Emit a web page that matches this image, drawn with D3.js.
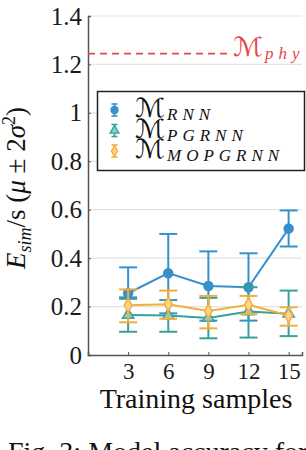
<!DOCTYPE html>
<html>
<head>
<meta charset="utf-8">
<script src="https://cdn.jsdelivr.net/npm/d3@7"></script>
<style>
  html, body { margin: 0; padding: 0; background: #fff; overflow: hidden; }
  svg { display: block; font-family: "Liberation Serif", "DejaVu Serif", serif; }
</style>
</head>
<body>
<div id="chart"></div>
<script>
const samples = [3, 6, 9, 12, 15];
const xTicks = [3, 6, 9, 12, 15];
const yTicks = [0, 0.2, 0.4, 0.6, 0.8, 1, 1.2, 1.4];

const rnnMean = [0.255, 0.338, 0.285, 0.28, 0.522];
const rnnLow = [0.238, 0.172, 0.142, 0.142, 0.448];
const rnnHigh = [0.362, 0.5, 0.428, 0.42, 0.597];

const pgMean = [0.165, 0.163, 0.153, 0.18, 0.17];
const pgLow = [0.096, 0.096, 0.069, 0.072, 0.078];
const pgHigh = [0.232, 0.227, 0.236, 0.28, 0.266];

const moMean = [0.205, 0.21, 0.182, 0.207, 0.163];
const moLow = [0.135, 0.15, 0.11, 0.169, 0.121];
const moHigh = [0.271, 0.266, 0.244, 0.244, 0.197];

const phyValue = 1.245;

const width = 306;
const height = 450;

const x = d3.scaleLinear().domain([0, 16]).range([88, 302]);
const y = d3.scaleLinear().domain([0, 1.4]).range([355, 16]);

const svg = d3
  .select('#chart')
  .append('svg')
  .attr('width', width)
  .attr('height', height);

// grid
svg
  .append('g')
  .selectAll('line')
  .data(yTicks.slice(1))
  .join('line')
  .attr('x1', x(0))
  .attr('x2', x(16))
  .attr('y1', d => y(d))
  .attr('y2', d => y(d))
  .attr('stroke', '#e3e3e3')
  .attr('stroke-width', 1.2);

// axes
const yAxis = d3
  .axisLeft(y)
  .tickValues(yTicks)
  .tickSize(-3)
  .tickPadding(6)
  .tickFormat(d => (d === 0 || d === 1 ? d3.format('d')(d) : d3.format('.1f')(d)));

const gy = svg.append('g').attr('transform', `translate(${x(0)},0)`).call(yAxis);
gy.select('.domain').attr('stroke', '#555').attr('stroke-width', 1.5);
gy.selectAll('.tick line').attr('stroke', '#555').attr('stroke-width', 1);
gy.selectAll('.tick text')
  .attr('font-family', '"Liberation Serif", serif')
  .attr('font-size', 25)
  .attr('fill', '#1a1a1a');

const xAxis = d3.axisBottom(x).tickValues(xTicks).tickSize(-3).tickPadding(8);
const gx = svg.append('g').attr('transform', `translate(0,${y(0)})`).call(xAxis);
gx.select('.domain').attr('stroke', '#555').attr('stroke-width', 1.5);
gx.selectAll('.tick line').attr('stroke', '#555').attr('stroke-width', 1);
gx.selectAll('.tick text')
  .attr('font-family', '"Liberation Serif", serif')
  .attr('font-size', 23)
  .attr('fill', '#1a1a1a');

// M_phy reference line
svg
  .append('line')
  .attr('x1', x(0))
  .attr('x2', 229)
  .attr('y1', y(phyValue))
  .attr('y2', y(phyValue))
  .attr('stroke', '#e4474b')
  .attr('stroke-width', 1.8)
  .attr('stroke-dasharray', '7,5');

// calligraphic M with an italic subscript
const mathLabel = (px, base, sub, color) => {
  const m = svg
    .append('text')
    .attr('font-family', '"DejaVu Sans", sans-serif')
    .attr('font-size', 24)
    .attr('fill', color)
    .text('\u2133');
  const sx = 30 / m.node().getComputedTextLength();
  m.attr('transform', `translate(${px},${base}) scale(${sx},1.1)`);
  svg
    .append('text')
    .attr('x', px + 32)
    .attr('y', base + 3)
    .attr('font-style', 'italic')
    .attr('font-size', 17)
    .attr('letter-spacing', 5)
    .attr('fill', color)
    .text(sub);
};

mathLabel(233, 56, 'phy', '#e4474b');

const series = [
  { name: 'RNN', mean: rnnMean, low: rnnLow, high: rnnHigh, color: '#3790cc', shape: d3.symbolCircle, fill: '#3790cc' },
  { name: 'PGRNN', mean: pgMean, low: pgLow, high: pgHigh, color: '#35a29a', shape: d3.symbolTriangle, fill: '#8fd0c9' },
  { name: 'MOPGRNN', mean: moMean, low: moLow, high: moHigh, color: '#f4ae3c', shape: d3.symbolDiamond, fill: '#fbd58e' }
];

const capW = 9;
const line = d3
  .line()
  .x(d => x(d[0]))
  .y(d => y(d[1]));

series.forEach(s => {
  const g = svg.append('g');
  const pts = samples.map((v, i) => [v, s.mean[i], s.low[i], s.high[i]]);

  g.append('path')
    .attr('d', line(pts))
    .attr('fill', 'none')
    .attr('stroke', s.color)
    .attr('stroke-width', 2);

  const eb = g.selectAll('.eb').data(pts).join('g').attr('class', 'eb');
  eb.append('line')
    .attr('x1', d => x(d[0]))
    .attr('x2', d => x(d[0]))
    .attr('y1', d => y(d[2]))
    .attr('y2', d => y(d[3]))
    .attr('stroke', s.color)
    .attr('stroke-width', 2);
  [2, 3].forEach(k => {
    eb.append('line')
      .attr('x1', d => x(d[0]) - capW)
      .attr('x2', d => x(d[0]) + capW)
      .attr('y1', d => y(d[k]))
      .attr('y2', d => y(d[k]))
      .attr('stroke', s.color)
      .attr('stroke-width', 2);
  });

  g.selectAll('.mk')
    .data(pts)
    .join('path')
    .attr('class', 'mk')
    .attr('transform', d => `translate(${x(d[0])},${y(d[1])})`)
    .attr('d', d3.symbol().type(s.shape).size(s.shape === d3.symbolCircle ? 64 : 55))
    .attr('fill', s.fill)
    .attr('stroke', s.color)
    .attr('stroke-width', 1.5);
});

// legend
svg
  .append('rect')
  .attr('x', 97.5)
  .attr('y', 91.5)
  .attr('width', 207)
  .attr('height', 79)
  .attr('fill', '#fff')
  .attr('stroke', '#222')
  .attr('stroke-width', 1.5);

series.forEach((s, i) => {
  const base = 119 + i * 20.5;
  const cy = base - 9;
  const lg = svg.append('g');
  lg.append('line')
    .attr('x1', 114.5).attr('x2', 114.5)
    .attr('y1', cy - 6).attr('y2', cy + 6)
    .attr('stroke', s.color).attr('stroke-width', 1.6);
  [-6, 6].forEach(o => {
    lg.append('line')
      .attr('x1', 111.5).attr('x2', 117.5)
      .attr('y1', cy + o).attr('y2', cy + o)
      .attr('stroke', s.color).attr('stroke-width', 1.6);
  });
  lg.append('path')
    .attr('transform', `translate(114.5,${cy})`)
    .attr('d', d3.symbol().type(s.shape).size(s.shape === d3.symbolCircle ? 40 : 34))
    .attr('fill', s.fill)
    .attr('stroke', s.color)
    .attr('stroke-width', 1.3);
  mathLabel(135, base - 2, s.name, '#111');
});

// axis labels
svg
  .append('text')
  .attr('x', 196)
  .attr('y', 408)
  .attr('text-anchor', 'middle')
  .attr('font-size', 28)
  .attr('fill', '#111')
  .text('Training samples');

const yl = svg
  .append('text')
  .attr('transform', 'translate(25,188) rotate(-90)')
  .attr('text-anchor', 'middle')
  .attr('font-size', 27)
  .attr('fill', '#111');
yl.append('tspan').attr('font-style', 'italic').text('E');
yl.append('tspan').attr('font-style', 'italic').attr('font-size', 18).attr('dy', 6).text('sim');
yl.append('tspan').attr('dy', -6).text('/s (');
yl.append('tspan').attr('font-style', 'italic').text('\u03bc');
yl.append('tspan').text(' \u00b1 2');
yl.append('tspan').attr('font-style', 'italic').text('\u03c3');
yl.append('tspan').attr('font-size', 18).attr('dy', -10).text('2');
yl.append('tspan').attr('dy', 10).text(')');

// caption, cut off by the page edge
svg
  .append('text')
  .attr('x', 8)
  .attr('y', 461)
  .attr('font-size', 28)
  .attr('fill', '#111')
  .text('Fig. 3: Model accuracy for');
</script>
</body>
</html>
